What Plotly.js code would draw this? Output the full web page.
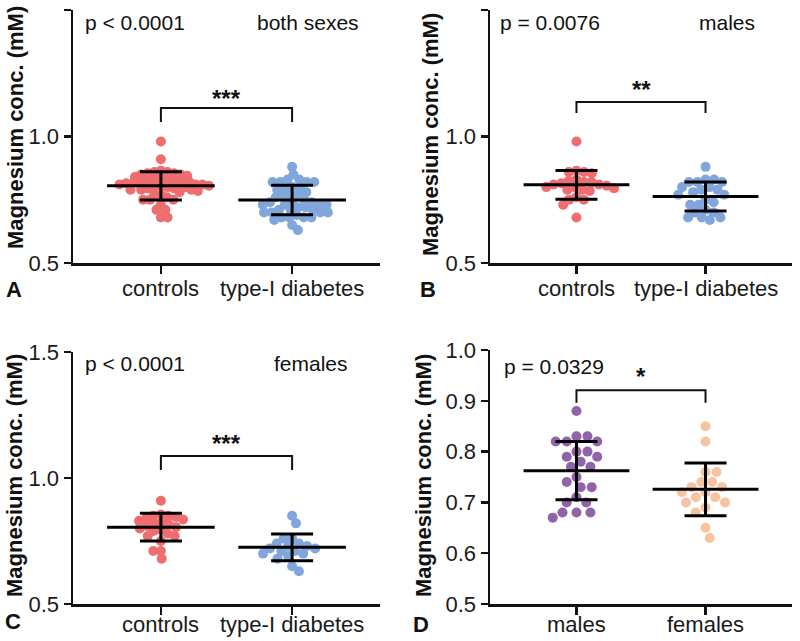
<!DOCTYPE html>
<html>
<head>
<meta charset="utf-8">
<script src="https://cdn.plot.ly/plotly-3.0.1.min.js"></script>
<style>html,body{margin:0;padding:0;background:#fff;}#chart{width:800px;height:641px;}</style>
</head>
<body>
<div id="chart"></div>
<script>
// ---------- data ----------
const groupsT1D = ['controls', 'type-I diabetes'];
const groupsSex = ['males', 'females'];

const malesControls   = [0.98, 0.86, 0.86, 0.865, 0.855, 0.83, 0.825, 0.82, 0.82, 0.815, 0.81, 0.81, 0.805, 0.80, 0.80, 0.795, 0.79, 0.79, 0.785, 0.76, 0.75, 0.75, 0.73, 0.68];
const femalesControls = [0.91, 0.855, 0.85, 0.85, 0.845, 0.84, 0.835, 0.83, 0.825, 0.82, 0.815, 0.81, 0.805, 0.80, 0.795, 0.79, 0.78, 0.77, 0.77, 0.75, 0.71, 0.71, 0.68];
const malesT1D        = [0.88, 0.83, 0.83, 0.82, 0.82, 0.82, 0.80, 0.80, 0.79, 0.79, 0.78, 0.77, 0.77, 0.75, 0.74, 0.73, 0.73, 0.71, 0.70, 0.70, 0.68, 0.68, 0.68, 0.67];
const femalesT1D      = [0.85, 0.82, 0.76, 0.76, 0.74, 0.74, 0.73, 0.73, 0.72, 0.72, 0.71, 0.71, 0.70, 0.70, 0.69, 0.68, 0.65, 0.63];

// mean and SD bars as drawn
const meansA = [0.805, 0.749];  const sdA = [0.056, 0.058];
const meansB = [0.809, 0.763];  const sdB = [0.057, 0.057];
const meansC = [0.805, 0.725];  const sdC = [0.055, 0.053];
const meansD = [0.7625, 0.7257]; const sdD = [0.0575, 0.052];

const pTexts   = ['p < 0.0001', 'p = 0.0076', 'p < 0.0001', 'p = 0.0329'];
const subsets  = ['both sexes', 'males', 'females', ''];
const stars    = ['***', '**', '***', '*'];
const letters  = ['A', 'B', 'C', 'D'];
const yTitle   = 'Magnesium conc. (mM)';

// ---------- layout helpers ----------
const W = 800, H = 641;
const FONT = 'Liberation Sans, Arial, Helvetica, sans-serif';
const RED = '#ef6d6f', BLUE = '#80a6db', PURPLE = '#9163a8', PEACH = '#f6c4a0';
const px = x => x / W;
const py = y => 1 - y / H;

// panel geometry in pixels; d = packing distance of the dots per group
const panels = [
  {xa: 'x',  ya: 'y',  x0: 73,  x1: 380, y0: 10,  y1: 263, range: [0.5, 1.5], d: [6.7, 7.7], lab: 288},
  {xa: 'x2', ya: 'y2', x0: 490, x1: 792, y0: 10,  y1: 263, range: [0.5, 1.5], d: [7.8, 8.5], lab: 288},
  {xa: 'x3', ya: 'y3', x0: 73,  x1: 380, y0: 352, y1: 604, range: [0.5, 1.5], d: [7.6, 8.5], lab: 624},
  {xa: 'x4', ya: 'y4', x0: 490, x1: 792, y0: 350, y1: 604, range: [0.5, 1.0], d: [11, 11],   lab: 624}
];
const XR = [-0.67, 1.67];

// beeswarm layout of the dots around each category
function swarm(values, pxX, pxY, d) {
  const order = values.map((v, i) => i).sort((a, b) => values[b] - values[a]);
  const placed = [];
  const offs = new Array(values.length).fill(0);
  let side = 1;
  for (const i of order) {
    const y = values[i] * pxY;
    const cands = [0];
    for (const p of placed) {
      const dy = Math.abs(p.y - y);
      if (dy < d) {
        const dx = Math.sqrt(d * d - dy * dy);
        cands.push(p.x + dx, p.x - dx);
      }
    }
    cands.sort((a, b) => (Math.abs(a) - Math.abs(b)) || (side * (b - a)));
    let chosen = 0;
    for (const c of cands) {
      if (placed.every(p => (p.x - c) ** 2 + (p.y - y) ** 2 >= d * d - 1e-6)) { chosen = c; break; }
    }
    if (chosen !== 0) side = -Math.sign(chosen);
    placed.push({x: chosen, y});
    offs[i] = chosen / pxX;
  }
  return offs;
}

const groupsPerPanel = [
  [[...malesControls, ...femalesControls], [...malesT1D, ...femalesT1D]],
  [malesControls, malesT1D],
  [femalesControls, femalesT1D],
  [malesT1D, femalesT1D]
];
const colorsPerPanel = [[RED, BLUE], [RED, BLUE], [RED, BLUE], [PURPLE, PEACH]];
const meansPerPanel = [meansA, meansB, meansC, meansD];
const sdPerPanel = [sdA, sdB, sdC, sdD];

const traces = [];
panels.forEach((pn, k) => {
  const pxX = (pn.x1 - pn.x0) / (XR[1] - XR[0]);
  const pxY = (pn.y1 - pn.y0) / (pn.range[1] - pn.range[0]);
  groupsPerPanel[k].forEach((vals, g) => {
    const offs = swarm(vals, pxX, pxY, pn.d[g]);
    traces.push({
      type: 'scatter', mode: 'markers', xaxis: pn.xa, yaxis: pn.ya,
      x: vals.map((v, i) => g + offs[i]), y: vals,
      marker: {size: 10, color: colorsPerPanel[k][g], line: {width: 0}},
      hoverinfo: 'skip', showlegend: false
    });
  });
});
panels.forEach((pn, k) => {
  traces.push({
    type: 'scatter', mode: 'markers', xaxis: pn.xa, yaxis: pn.ya,
    x: [0, 1], y: meansPerPanel[k],
    marker: {size: 1, color: 'rgba(0,0,0,0)'},
    error_x: {type: 'constant', value: 0.41, width: 0, thickness: 3, color: '#000'},
    error_y: {type: 'data', array: sdPerPanel[k], width: 21, thickness: 3, color: '#000'},
    hoverinfo: 'skip', showlegend: false
  });
});

const layout = {
  width: W, height: H,
  margin: {l: 0, r: 0, t: 0, b: 0},
  paper_bgcolor: '#fff', plot_bgcolor: '#fff',
  showlegend: false,
  font: {family: FONT, color: '#1a1a1a', size: 22},
  shapes: [], annotations: []
};

const bracket = [
  {top: 1.113, drop: 1.057, star: 1.150},
  {top: 1.136, drop: 1.093, star: 1.186},
  {top: 1.087, drop: 1.032, star: 1.137},
  {top: 0.921, drop: 0.896, star: 0.948}
];

panels.forEach((pn, k) => {
  const sx = k === 0 ? '' : String(k + 1);
  const isD = k === 3;
  const cats = isD ? groupsSex : groupsT1D;
  layout['xaxis' + sx] = {
    domain: [px(pn.x0), px(pn.x1)], range: XR, anchor: pn.ya,
    tickmode: 'array', tickvals: [0, 1], showticklabels: false,
    showline: true, linewidth: 2.5, linecolor: '#111', mirror: false,
    ticks: 'outside', ticklen: 8, tickwidth: 2.5, tickcolor: '#111',
    showgrid: false, zeroline: false, fixedrange: true
  };
  layout['yaxis' + sx] = {
    domain: [py(pn.y1), py(pn.y0)], range: pn.range, anchor: pn.xa,
    tickmode: 'linear', tick0: 0.5, dtick: isD ? 0.1 : 0.5, tickformat: '.1f',
    showline: true, linewidth: 2.5, linecolor: '#111',
    ticks: 'outside', ticklen: 7, tickwidth: 2.5, tickcolor: '#111',
    showgrid: false, zeroline: false, fixedrange: true,
    tickfont: {family: FONT, size: 22, color: '#1a1a1a'}
  };
  cats.forEach((c, g) => layout.annotations.push({
    xref: pn.xa, yref: 'paper', x: g, y: py(pn.lab), text: c, showarrow: false,
    xanchor: 'center', yanchor: 'middle', font: {family: FONT, size: 22, color: '#1a1a1a'}
  }));
  const b = bracket[k];
  layout.shapes.push({
    type: 'path', xref: pn.xa, yref: pn.ya,
    path: `M0,${b.drop} L0,${b.top} L1,${b.top} L1,${b.drop}`,
    line: {color: '#111', width: 2}
  });
  layout.annotations.push({
    xref: pn.xa, yref: pn.ya, x: 0.5, y: b.star, text: '<b>' + stars[k] + '</b>',
    showarrow: false, font: {family: FONT, size: 24, color: '#111'}, xanchor: 'center', yanchor: 'middle'
  });
});

// text annotations (paper px positions)
const pPos = [[83, 23], [498, 23], [83, 363], [502, 366]];
const sPos = [[255, 23], [697, 23], [272, 363], null];
const tPos = [[15, 128], [430, 135], [14, 476], [423, 476]];
const lPos = [[14, 290], [428, 290], [13, 621], [421, 624]];
for (let k = 0; k < 4; k++) {
  layout.annotations.push({xref: 'paper', yref: 'paper', x: px(pPos[k][0]), y: py(pPos[k][1]),
    text: pTexts[k], showarrow: false, xanchor: 'left', yanchor: 'middle',
    font: {family: FONT, size: 21, color: '#111'}});
  if (sPos[k]) layout.annotations.push({xref: 'paper', yref: 'paper', x: px(sPos[k][0]), y: py(sPos[k][1]),
    text: subsets[k], showarrow: false, xanchor: 'left', yanchor: 'middle',
    font: {family: FONT, size: 21, color: '#111'}});
  layout.annotations.push({xref: 'paper', yref: 'paper', x: px(tPos[k][0]), y: py(tPos[k][1]),
    text: '<b>' + yTitle + '</b>', showarrow: false, textangle: -90, xanchor: 'center', yanchor: 'middle',
    font: {family: FONT, size: 22, color: '#111'}});
  layout.annotations.push({xref: 'paper', yref: 'paper', x: px(lPos[k][0]), y: py(lPos[k][1]),
    text: '<b>' + letters[k] + '</b>', showarrow: false, xanchor: 'center', yanchor: 'middle',
    font: {family: FONT, size: 22, color: '#111'}});
}

Plotly.newPlot('chart', traces, layout, {displayModeBar: false, staticPlot: true});
</script>
</body>
</html>
